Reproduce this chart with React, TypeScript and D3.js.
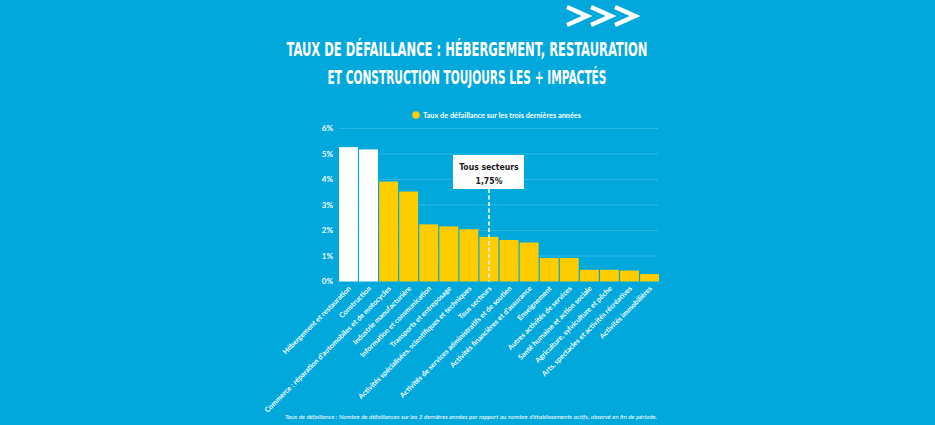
import * as d3 from "d3";

const sectors = [
  "Hébergement et restauration",
  "Construction",
  "Commerce : réparation d'automobiles et de motocycles",
  "Industrie manufacturière",
  "Information et communication",
  "Transports et entreposage",
  "Activités spécialisées, scientifiques et techniques",
  "Tous secteurs",
  "Activités de services administratifs et de soutien",
  "Activités financières et d'assurance",
  "Enseignement",
  "Autres activités de services",
  "Santé humaine et action sociale",
  "Agriculture, sylviculture et pêche",
  "Arts, spectacles et activités récréatives",
  "Activités immobilières",
];

const rates = [5.27, 5.18, 3.92, 3.53, 2.24, 2.16, 2.05, 1.75, 1.63, 1.53, 0.92, 0.92, 0.46, 0.46, 0.43, 0.29];

const highlighted = ["Hébergement et restauration", "Construction"];

const yTicks = [0, 1, 2, 3, 4, 5, 6];

const titleLines = [
  "TAUX DE DÉFAILLANCE : HÉBERGEMENT, RESTAURATION",
  "ET CONSTRUCTION TOUJOURS LES + IMPACTÉS",
];

const legendLabel = "Taux de défaillance sur les trois dernières années";
const totalLabel = "Tous secteurs";
const totalValue = 1.75;
const footnote =
  "Taux de défaillance : Nombre de défaillances sur les 3 dernières années par rapport au nombre d'établissements actifs, observé en fin de période.";

const WIDTH = 935;
const HEIGHT = 425;
const BG = "#00a8dc";
const YELLOW = "#ffcc00";
const condensed = "'Liberation Sans Narrow', 'DejaVu Sans Condensed', sans-serif";
const sans = "Lato, 'Open Sans', sans-serif";

export default function App() {
  const x = d3.scaleBand().domain(sectors).range([339, 659]).paddingInner(0.06);
  const y = d3.scaleLinear().domain([0, 6]).range([281.5, 128.5]);

  const totalX = (x(totalLabel) ?? 0) + x.bandwidth() / 2;

  return (
    <svg
      width={WIDTH}
      height={HEIGHT}
      style={{ position: "absolute", left: 0, top: 0, display: "block" }}
    >
      <rect width={WIDTH} height={HEIGHT} fill={BG} />

      {/* chevrons */}
      <g fill="none" stroke="#fff" strokeWidth={4.5} strokeLinejoin="miter">
        {[0, 1, 2].map((i) => (
          <path key={i} d={`M${567 + i * 24},7 L${587 + i * 24},16 L${567 + i * 24},25`} />
        ))}
      </g>

      {/* title */}
      <g fill="#fff" fontFamily={condensed} fontWeight="bold" fontSize={19.5} textAnchor="middle">
        <text x={467} y={56} textLength={361} lengthAdjust="spacingAndGlyphs">
          {titleLines[0]}
        </text>
        <text x={467} y={84} textLength={279} lengthAdjust="spacingAndGlyphs">
          {titleLines[1]}
        </text>
      </g>

      {/* legend */}
      <circle cx={416} cy={115} r={3.8} fill={YELLOW} />
      <text
        x={423}
        y={117.5}
        fill="#fff"
        fontFamily={sans}
        fontWeight="bold"
        fontSize={7.2}
        textLength={158}
        lengthAdjust="spacingAndGlyphs"
      >
        {legendLabel}
      </text>

      {/* grid + y ticks */}
      {yTicks.map((t) => (
        <g key={t}>
          {t > 0 && (
            <line x1={339} x2={658} y1={y(t)} y2={y(t)} stroke="#2cb8e6" strokeWidth={1} />
          )}
          <text
            x={333}
            y={y(t) + 2.8}
            textAnchor="end"
            fill="#fff"
            fontFamily={sans}
            fontWeight="bold"
            fontSize={8}
          >
            {t}%
          </text>
        </g>
      ))}

      {/* bars */}
      {sectors.map((s, i) => (
        <rect
          key={s}
          x={x(s)}
          y={y(rates[i])}
          width={x.bandwidth()}
          height={y(0) - y(rates[i])}
          fill={highlighted.includes(s) ? "#fff" : YELLOW}
        />
      ))}

      {/* all sectors marker */}
      <line
        x1={totalX}
        x2={totalX}
        y1={189}
        y2={y(0)}
        stroke="#fff"
        strokeWidth={1.6}
        strokeDasharray="4 2.5"
      />
      <rect x={totalX - 36} y={155} width={71} height={34} fill="#fff" />
      <text
        fill="#1a1a1a"
        fontFamily={condensed}
        fontWeight="bold"
        fontSize={8.6}
        textAnchor="middle"
      >
        <tspan x={totalX} y={170}>
          {totalLabel}
        </tspan>
        <tspan x={totalX} y={183.5}>
          {d3.format(".2f")(totalValue).replace(".", ",")}%
        </tspan>
      </text>

      {/* x labels */}
      {sectors.map((s) => {
        const cx = (x(s) ?? 0) + x.bandwidth() / 2 + 3;
        return (
          <text
            key={s}
            transform={`translate(${cx},289) rotate(-45)`}
            textAnchor="end"
            fill="#fff"
            fontFamily={sans}
            fontWeight="bold"
            fontSize={7.2}
          >
            {s}
          </text>
        );
      })}

      {/* footnote */}
      <text
        x={471}
        y={419}
        textAnchor="middle"
        fill="#fff"
        fontFamily={sans}
        fontStyle="italic"
        fontSize={5.6}
        textLength={372}
        lengthAdjust="spacingAndGlyphs"
      >
        {footnote}
      </text>
    </svg>
  );
}
